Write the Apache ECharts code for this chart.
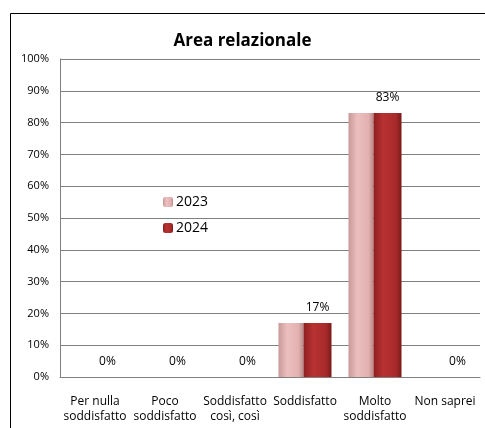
<!DOCTYPE html>
<html>
<head>
<meta charset="utf-8">
<script src="https://cdn.jsdelivr.net/npm/echarts@6/dist/echarts.min.js"></script>
<style>
html, body { margin: 0; padding: 0; background: #fff; }
#chart { width: 485px; height: 428px; }
</style>
</head>
<body>
<div id="chart"></div>
<script>
// dati
var categories = ["Per nulla\nsoddisfatto", "Poco\nsoddisfatto", "Soddisfatto\ncosì, così", "Soddisfatto", "Molto\nsoddisfatto", "Non saprei"];
var values2023 = [0, 0, 0, 17, 83, 0];
var values2024 = [0, 0, 0, 17, 83, 0];
var yTicks = [0, 10, 20, 30, 40, 50, 60, 70, 80, 90, 100];

var myChart = echarts.init(document.getElementById("chart"));

// sfumature tipo Excel
var col2023 = new echarts.graphic.LinearGradient(0, 0, 1, 0, [
    { offset: 0, color: "#c89898" },
    { offset: 0.35, color: "#ecbfbf" },
    { offset: 0.8, color: "#e3b0b0" },
    { offset: 1, color: "#b88888" }
]);
var col2024 = new echarts.graphic.LinearGradient(0, 0, 1, 0, [
    { offset: 0, color: "#8e2020" },
    { offset: 0.35, color: "#b83232" },
    { offset: 0.8, color: "#a82a2a" },
    { offset: 1, color: "#7a1a1a" }
]);

var option = {
    animation: false,
    textStyle: { fontFamily: "Open Sans" },
    title: {
        text: "Area relazionale",
        left: "center",
        top: 28,
        textStyle: { fontSize: 17, fontWeight: "bold", color: "#000", fontFamily: "Open Sans" }
    },
    graphic: [
        {
            type: "rect",
            left: 8,
            top: 11,
            shape: { width: 490, height: 430 },
            style: { fill: "none", stroke: "#000", lineWidth: 1 }
        }
    ],
    legend: {
        orient: "vertical",
        left: 158,
        top: 190,
        itemWidth: 10,
        itemHeight: 10,
        itemGap: 12,
        textStyle: { fontSize: 14, color: "#000", padding: [0, 0, 0, -2] },
        data: ["2023", "2024"]
    },
    grid: {
        left: 60,
        right: 5,
        top: 59,
        bottom: 51
    },
    xAxis: {
        type: "category",
        data: categories,
        axisTick: { show: false },
        axisLine: { lineStyle: { color: "#808080" } },
        axisLabel: {
            interval: 0,
            color: "#000",
            fontSize: 12,
            margin: 17,
            lineHeight: 15
        }
    },
    yAxis: {
        type: "value",
        min: 0,
        max: 100,
        interval: 10,
        axisLine: { show: true, lineStyle: { color: "#808080" } },
        axisTick: { show: false },
        splitLine: { lineStyle: { color: "#808080" } },
        axisLabel: {
            color: "#000",
            fontSize: 11,
            margin: 11,
            formatter: function (v) {
                return yTicks.indexOf(v) >= 0 ? v + "%" : "";
            }
        }
    },
    series: [
        {
            name: "2023",
            type: "bar",
            data: values2023,
            barWidth: 25,
            barGap: "0%",
            itemStyle: { color: col2023 }
        },
        {
            name: "2024",
            type: "bar",
            data: values2024,
            barWidth: 28,
            itemStyle: { color: col2024 },
            label: {
                show: true,
                position: "top",
                distance: 9,
                color: "#000",
                fontSize: 12,
                formatter: "{c}%"
            }
        }
    ]
};
myChart.setOption(option);
</script>
</body>
</html>
